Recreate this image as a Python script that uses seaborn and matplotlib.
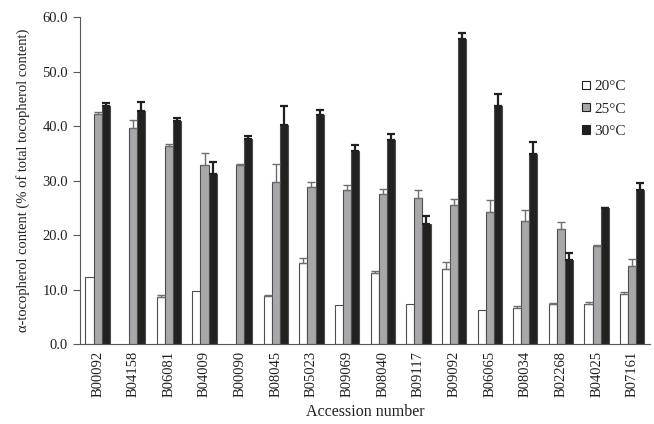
import numpy as np
import pandas as pd
import matplotlib
matplotlib.use("Agg")
import matplotlib.pyplot as plt
import seaborn as sns
from matplotlib.patches import Patch
from matplotlib.ticker import FixedLocator, FormatStrFormatter

# Data
accessions = ["B00092", "B04158", "B06081", "B04009", "B00090", "B08045",
              "B05023", "B09069", "B08040", "B09117", "B09092", "B06065",
              "B08034", "B02268", "B04025", "B07161"]
temps = ["20°C", "25°C", "30°C"]

val_20 = [12.3, np.nan, 8.6, 9.7, np.nan, 8.8, 14.9, 7.2, 13.1, 7.3, 13.8, 6.3, 6.6, 7.4, 7.4, 9.3]
err_20 = [0.0, 0.0, 0.4, 0.0, 0.0, 0.2, 0.9, 0.0, 0.4, 0.0, 1.2, 0.0, 0.5, 0.2, 0.4, 0.3]
val_25 = [42.3, 39.7, 36.3, 32.8, 32.8, 29.7, 28.9, 28.2, 27.5, 26.8, 25.6, 24.3, 22.6, 21.2, 18.1, 14.4]
err_25 = [0.2, 1.4, 0.4, 2.3, 0.3, 3.4, 0.8, 1.0, 0.9, 1.4, 1.0, 2.1, 2.1, 1.2, 0.1, 1.2]
val_30 = [43.7, 42.8, 40.9, 31.2, 37.6, 40.2, 42.1, 35.4, 37.5, 22.0, 56.0, 43.7, 34.8, 15.4, 24.9, 28.3]
err_30 = [0.5, 1.6, 0.6, 2.3, 0.6, 3.5, 0.9, 1.1, 1.0, 1.5, 1.1, 2.2, 2.3, 1.3, 0.1, 1.2]

fills = {"20°C": "#ffffff", "25°C": "#a7a8ab", "30°C": "#231f20"}
err_colors = {"20°C": "#6d6e70", "25°C": "#6d6e70", "30°C": "#231f20"}

rows = []
for t, vals, errs in [("20°C", val_20, err_20), ("25°C", val_25, err_25), ("30°C", val_30, err_30)]:
    for acc, v, e in zip(accessions, vals, errs):
        if not np.isnan(v):
            rows.append({"Accession": acc, "Temp": t, "Value": v, "Err": e})
df = pd.DataFrame(rows)

sns.set_style("white")
plt.rcParams["font.family"] = ["Liberation Serif", "DejaVu Serif"]

fig = plt.figure(figsize=(6.54, 4.24), dpi=100)
ax = fig.add_axes([0.122, 0.188, 0.872, 0.772])

sns.barplot(data=df, x="Accession", y="Value", hue="Temp", order=accessions,
            hue_order=temps, palette=fills, errorbar=None, width=0.68,
            edgecolor="#4d4d4f", linewidth=0.8, legend=False, ax=ax)

# upward-only error bars placed on the bars seaborn drew
for t, cont in zip(temps, ax.containers):
    sub = df[df["Temp"] == t].set_index("Accession")
    for p in cont.patches:
        xc = p.get_x() + p.get_width() / 2
        idx = int(round(xc))
        acc = accessions[idx]
        if acc not in sub.index:
            continue
        v, e = sub.loc[acc, "Value"], sub.loc[acc, "Err"]
        if e <= 0:
            continue
        lw = 1.6 if t == "30°C" else 1.0
        ax.errorbar(xc, v, yerr=[[0], [e]], fmt="none", ecolor=err_colors[t],
                    elinewidth=lw, capsize=3.2, capthick=lw, zorder=3)

ax.set_ylim(0, 60)
ax.set_xlim(-0.5, len(accessions) - 0.5)
ax.set_yticks(np.arange(0, 61, 10))
ax.yaxis.set_major_formatter(FormatStrFormatter("%.1f"))
ax.set_xticks(range(len(accessions)))
ax.set_xticklabels(accessions, rotation=90)
ax.xaxis.set_minor_locator(FixedLocator(np.arange(-0.5, len(accessions), 1.0)))
ax.tick_params(axis="x", which="major", length=0, pad=5, labelsize=10.5, colors="#231f20")
ax.tick_params(axis="x", which="minor", length=5, width=0.8, color="#58595b", direction="out")
ax.tick_params(axis="y", length=5, width=0.8, color="#58595b", direction="out",
               labelsize=10.5, labelcolor="#231f20", left=True)

sns.despine(ax=ax)
for s in ["left", "bottom"]:
    ax.spines[s].set_color("#58595b")
    ax.spines[s].set_linewidth(0.8)

ax.set_xlabel("Accession number", fontsize=11.5, color="#231f20", labelpad=5)
ax.set_ylabel("α-tocopherol content (% of total tocopherol content)", fontsize=10.5,
              color="#231f20", labelpad=9)

handles = [Patch(facecolor=fills[t], edgecolor="#231f20", linewidth=0.8, label=t) for t in temps]
ax.legend(handles=handles, loc="upper left", bbox_to_anchor=(0.87, 0.825), frameon=False,
          fontsize=11, handlelength=0.5, handleheight=0.5, handletextpad=0.3,
          labelspacing=0.6, borderaxespad=0)

fig.savefig("out.png", dpi=100)
